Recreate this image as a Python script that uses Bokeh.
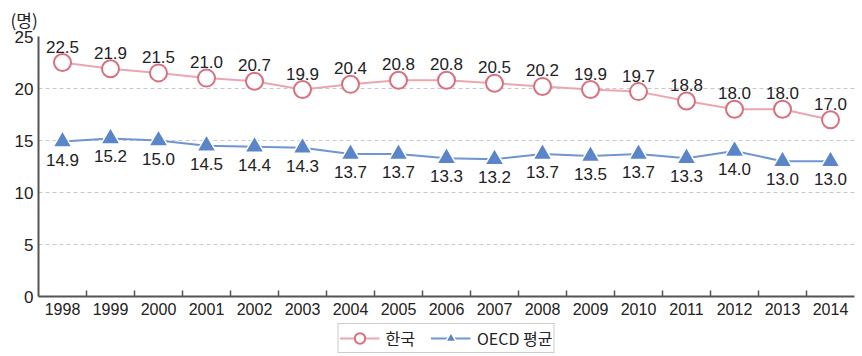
from bokeh.plotting import figure
from bokeh.layouts import column
from bokeh.models import FixedTicker, Legend, LegendItem, ColumnDataSource, Range1d
from bokeh.core.properties import value
from bokeh.embed import file_html
from bokeh.resources import INLINE

years = ["1998", "1999", "2000", "2001", "2002", "2003", "2004", "2005", "2006",
         "2007", "2008", "2009", "2010", "2011", "2012", "2013", "2014"]
korea = [22.5, 21.9, 21.5, 21.0, 20.7, 19.9, 20.4, 20.8, 20.8, 20.5, 20.2, 19.9,
         19.7, 18.8, 18.0, 18.0, 17.0]
oecd = [14.9, 15.2, 15.0, 14.5, 14.4, 14.3, 13.7, 13.7, 13.3, 13.2, 13.7, 13.5,
        13.7, 13.3, 14.0, 13.0, 13.0]
y_ticks = [0, 5, 10, 15, 20, 25]
unit_label = "(명)"
series_names = ["한국", "OECD 평균"]

NUM_FONT = "Liberation Sans"
KR_FONT = "Noto Sans CJK KR"

K_LINE, K_MARK = "#eca6b0", "#d8707f"
O_LINE, O_MARK = "#6f95d3", "#5a86c9"

xs = [i + 0.5 for i in range(len(years))]
src = ColumnDataSource(dict(
    x=xs, korea=korea, oecd=oecd,
    klab=[f"{v:.1f}" for v in korea], olab=[f"{v:.1f}" for v in oecd],
))

p = figure(width=862, height=320, output_backend="svg", toolbar_location=None,
           x_range=Range1d(0, len(years)), y_range=Range1d(y_ticks[0], y_ticks[-1]),
           min_border_left=38, min_border_right=8, min_border_top=32, min_border_bottom=24,
           title=unit_label)
p.outline_line_color = None
p.background_fill_color = "white"
p.border_fill_color = "white"

p.title.text_font = KR_FONT
p.title.text_font_size = "17px"
p.title.text_font_style = "normal"
p.title.text_color = "#222222"
p.title.align = "left"
p.title.offset = -28
p.title.standoff = 9

# grid
p.xgrid.grid_line_color = None
p.ygrid.ticker = FixedTicker(ticks=y_ticks)
p.ygrid.grid_line_color = "#c8c8c8"
p.ygrid.grid_line_dash = "4 3"
p.ygrid.grid_line_width = 1

# axes
p.xaxis.ticker = FixedTicker(ticks=xs, minor_ticks=list(range(1, len(years))))
p.xaxis.major_label_overrides = {x: y for x, y in zip(xs, years)}
p.xaxis.major_tick_line_color = None
p.xaxis.major_tick_in = 0
p.xaxis.major_tick_out = 0
p.xaxis.minor_tick_in = 6
p.xaxis.minor_tick_out = 0
p.xaxis.minor_tick_line_color = "#555555"
p.xaxis.minor_tick_line_width = 1.5
p.xaxis.axis_line_color = "#555555"
p.xaxis.axis_line_width = 2
p.xaxis.major_label_text_font = NUM_FONT
p.xaxis.major_label_text_font_size = "16px"
p.xaxis.major_label_text_color = "#222222"
p.xaxis.major_label_standoff = 6

p.yaxis.ticker = FixedTicker(ticks=y_ticks)
p.yaxis.major_tick_line_color = None
p.yaxis.major_tick_in = 0
p.yaxis.major_tick_out = 0
p.yaxis.minor_tick_line_color = None
p.yaxis.axis_line_color = "#555555"
p.yaxis.axis_line_width = 2
p.yaxis.major_label_text_font = NUM_FONT
p.yaxis.major_label_text_font_size = "17px"
p.yaxis.major_label_text_color = "#222222"
p.yaxis.major_label_standoff = 5

# Korea
p.line("x", "korea", source=src, line_color=K_LINE, line_width=2)
p.scatter("x", "korea", source=src, marker="circle", size=17,
          fill_color="white", line_color=K_MARK, line_width=2)
p.text("x", "korea", text="klab", source=src, text_align="center", text_baseline="bottom",
       y_offset=-10, text_font=value(NUM_FONT), text_font_size="17px", text_color="#222222")

# OECD
p.line("x", "oecd", source=src, line_color=O_LINE, line_width=2)
p.scatter("x", "oecd", source=src, marker="triangle", size=19,
          fill_color=O_MARK, line_color="white", line_width=1.5)
p.text("x", "oecd", text="olab", source=src, text_align="center", text_baseline="top",
       y_offset=12, text_font=value(NUM_FONT), text_font_size="17px", text_color="#222222")

# legend figure (legend-only renderers placed outside the visible range)
lf = figure(width=862, height=36, output_backend="svg", toolbar_location=None,
            x_range=Range1d(0, 1), y_range=Range1d(0, 1),
            min_border=0, x_axis_type=None, y_axis_type=None)
lf.outline_line_color = None
lf.xgrid.grid_line_color = None
lf.ygrid.grid_line_color = None
hidden = ColumnDataSource(dict(x=[-10, -11], y=[-10, -11]))
l1 = lf.line("x", "y", source=hidden, line_color=K_LINE, line_width=2)
m1 = lf.scatter("x", "y", source=hidden, marker="circle", size=17,
                fill_color="white", line_color=K_MARK, line_width=2)
l2 = lf.line("x", "y", source=hidden, line_color=O_LINE, line_width=2)
m2 = lf.scatter("x", "y", source=hidden, marker="triangle", size=19,
                fill_color=O_MARK, line_color="white", line_width=1.5)

legend = Legend(items=[LegendItem(label=series_names[0], renderers=[l1, m1]),
                       LegendItem(label=series_names[1], renderers=[l2, m2])],
                orientation="horizontal", location="center")
legend.label_text_font = KR_FONT
legend.label_text_font_size = "16px"
legend.label_text_color = "#222222"
legend.glyph_width = 40
legend.glyph_height = 26
legend.spacing = 16
legend.padding = 1
legend.margin = 0
legend.border_line_color = "#999999"
legend.border_line_width = 1
legend.label_standoff = 6
lf.add_layout(legend, "center")

layout = column(p, lf, spacing=0)
open("out.html", "w").write(file_html(layout, INLINE))
